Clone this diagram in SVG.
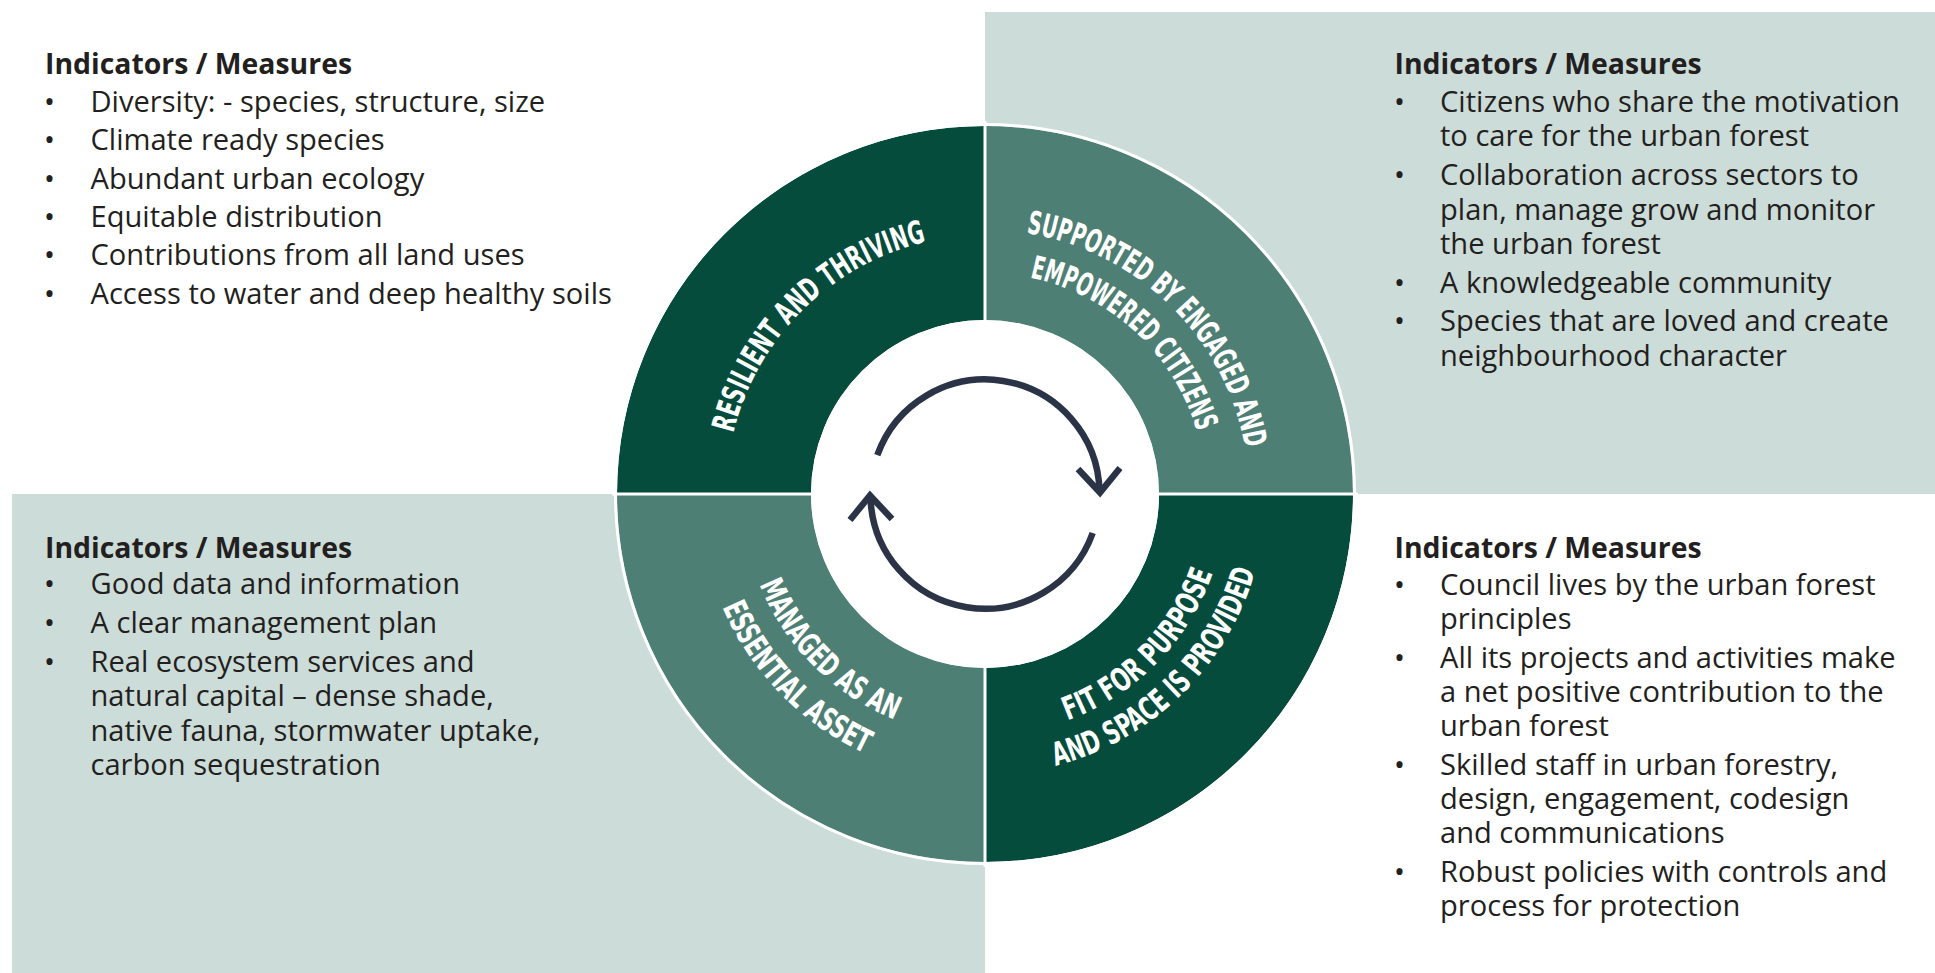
<svg xmlns="http://www.w3.org/2000/svg" width="1935" height="973" viewBox="0 0 1935 973">
<style>
.panel{fill:#ccdcd8}
.dark{fill:#054c3d}
.mid{fill:#4e7f75}
.ring{font-family:"Liberation Sans Narrow","DejaVu Sans Condensed","Roboto",sans-serif;font-weight:700;font-size:32px;fill:#ffffff}
.hd{font-family:"Open Sans","Liberation Sans",sans-serif;font-weight:700;font-size:28.4px;fill:#231f20}
.tx{font-family:"Open Sans","Liberation Sans",sans-serif;font-weight:400;font-size:29.1px;fill:#231f20}
.arc{fill:none;stroke:#2b3446;stroke-width:6.5;stroke-linecap:butt;stroke-linejoin:miter}
.sep{stroke:#ffffff;stroke-width:3;fill:none}
</style>
<defs>
<path id="p1" d="M 733.3 433.1 A 259 259 0 0 1 971.5 235.4"/>
<path id="p2" d="M 1026.3 233.2 A 264 264 0 0 1 1249 494"/>
<path id="p3" d="M 1029.8 277.6 A 221 221 0 0 1 1204.6 469.4"/>
<path id="p4" d="M 759.5 584.6 A 243 243 0 0 0 935.3 731.9"/>
<path id="p5" d="M 722.3 607.1 A 286 286 0 0 0 912.0 770.5"/>
<path id="p6" d="M 1067.4 720.5 A 241 241 0 0 0 1222.9 532.5"/>
<path id="p7" d="M 1055.4 766.0 A 281 281 0 0 0 1264.5 523.4"/>
</defs>
<rect width="1935" height="973" fill="#ffffff"/>
<rect class="panel" x="985" y="12" width="950" height="482"/>
<rect class="panel" x="12" y="494" width="973" height="479"/>

<g id="resilient">
<path class="dark" d="M 617 494 A 368 368 0 0 1 985 126 L 985 320 A 174 174 0 0 0 811 494 Z"/>
<text class="ring"><textPath href="#p1" textLength="286" lengthAdjust="spacingAndGlyphs">RESILIENT AND THRIVING</textPath></text>
</g>
<g id="supported">
<path class="mid" d="M 985 126 A 368 368 0 0 1 1353 494 L 1159 494 A 174 174 0 0 0 985 320 Z"/>
<text class="ring"><textPath href="#p2" textLength="327" lengthAdjust="spacingAndGlyphs">SUPPORTED BY ENGAGED AND</textPath></text>
<text class="ring"><textPath href="#p3" textLength="239" lengthAdjust="spacingAndGlyphs">EMPOWERED CITIZENS</textPath></text>
</g>
<g id="fit">
<path class="dark" d="M 1353 494 A 368 368 0 0 1 985 862 L 985 668 A 174 174 0 0 0 1159 494 Z"/>
<text class="ring"><textPath href="#p6" textLength="214" lengthAdjust="spacingAndGlyphs">FIT FOR PURPOSE</textPath></text>
<text class="ring"><textPath href="#p7" textLength="292" lengthAdjust="spacingAndGlyphs">AND SPACE IS PROVIDED</textPath></text>
</g>
<g id="managed">
<path class="mid" d="M 985 862 A 368 368 0 0 1 617 494 L 811 494 A 174 174 0 0 0 985 668 Z"/>
<text class="ring"><textPath href="#p4" textLength="196" lengthAdjust="spacingAndGlyphs">MANAGED AS AN</textPath></text>
<text class="ring"><textPath href="#p5" textLength="209" lengthAdjust="spacingAndGlyphs">ESSENTIAL ASSET</textPath></text>
</g>
<g id="ring-lines">
<circle class="sep" cx="985" cy="494" r="369.5"/>
<line class="sep" x1="612" y1="494" x2="1358" y2="494"/>
<line class="sep" x1="985" y1="121" x2="985" y2="867"/>
<circle cx="985" cy="494" r="174" fill="#ffffff"/>
</g>

<g id="connectors">
<path class="arc" d="M 877.3 455.2 A 114.5 114.5 0 0 1 1099.5 491"/>
<polyline class="arc" points="1078,469 1100,492.5 1120,468"/>
<path class="arc" d="M 1092.7 533 A 114.5 114.5 0 0 1 870.5 497"/>
<polyline class="arc" points="892,519 870,495.5 850,520"/>
</g>

<g id="tl-block">
<text class="hd" x="45" y="74">Indicators / Measures</text>
<text class="tx" x="44" y="112">•</text><text class="tx" x="90.5" y="112">Diversity: - species, structure, size</text>
<text class="tx" x="44" y="150.3">•</text><text class="tx" x="90.5" y="150.3">Climate ready species</text>
<text class="tx" x="44" y="188.6">•</text><text class="tx" x="90.5" y="188.6">Abundant urban ecology</text>
<text class="tx" x="44" y="227">•</text><text class="tx" x="90.5" y="227">Equitable distribution</text>
<text class="tx" x="44" y="265.3">•</text><text class="tx" x="90.5" y="265.3">Contributions from all land uses</text>
<text class="tx" x="44" y="303.6">•</text><text class="tx" x="90.5" y="303.6">Access to water and deep healthy soils</text>
</g>

<g id="tr-block">
<text class="hd" x="1394.5" y="74">Indicators / Measures</text>
<text class="tx" x="1394" y="111.5">•</text><text class="tx" x="1440" y="111.5">Citizens who share the motivation</text>
<text class="tx" x="1440" y="146">to care for the urban forest</text>
<text class="tx" x="1394" y="185">•</text><text class="tx" x="1440" y="185">Collaboration across sectors to</text>
<text class="tx" x="1440" y="219.5">plan, manage grow and monitor</text>
<text class="tx" x="1440" y="254">the urban forest</text>
<text class="tx" x="1394" y="292.5">•</text><text class="tx" x="1440" y="292.5">A knowledgeable community</text>
<text class="tx" x="1394" y="331">•</text><text class="tx" x="1440" y="331">Species that are loved and create</text>
<text class="tx" x="1440" y="365.5">neighbourhood character</text>
</g>

<g id="bl-block">
<text class="hd" x="45" y="557.5">Indicators / Measures</text>
<text class="tx" x="44" y="594">•</text><text class="tx" x="90.5" y="594">Good data and information</text>
<text class="tx" x="44" y="633">•</text><text class="tx" x="90.5" y="633">A clear management plan</text>
<text class="tx" x="44" y="672">•</text><text class="tx" x="90.5" y="672">Real ecosystem services and</text>
<text class="tx" x="90.5" y="706">natural capital – dense shade,</text>
<text class="tx" x="90.5" y="740.5">native fauna, stormwater uptake,</text>
<text class="tx" x="90.5" y="775">carbon sequestration</text>
</g>

<g id="br-block">
<text class="hd" x="1394.5" y="557.5">Indicators / Measures</text>
<text class="tx" x="1394" y="594.5">•</text><text class="tx" x="1440" y="594.5">Council lives by the urban forest</text>
<text class="tx" x="1440" y="628.5">principles</text>
<text class="tx" x="1394" y="668">•</text><text class="tx" x="1440" y="668">All its projects and activities make</text>
<text class="tx" x="1440" y="702">a net positive contribution to the</text>
<text class="tx" x="1440" y="736">urban forest</text>
<text class="tx" x="1394" y="774.5">•</text><text class="tx" x="1440" y="774.5">Skilled staff in urban forestry,</text>
<text class="tx" x="1440" y="808.5">design, engagement, codesign</text>
<text class="tx" x="1440" y="842.5">and communications</text>
<text class="tx" x="1394" y="881.5">•</text><text class="tx" x="1440" y="881.5">Robust policies with controls and</text>
<text class="tx" x="1440" y="915.5">process for protection</text>
</g>
</svg>
